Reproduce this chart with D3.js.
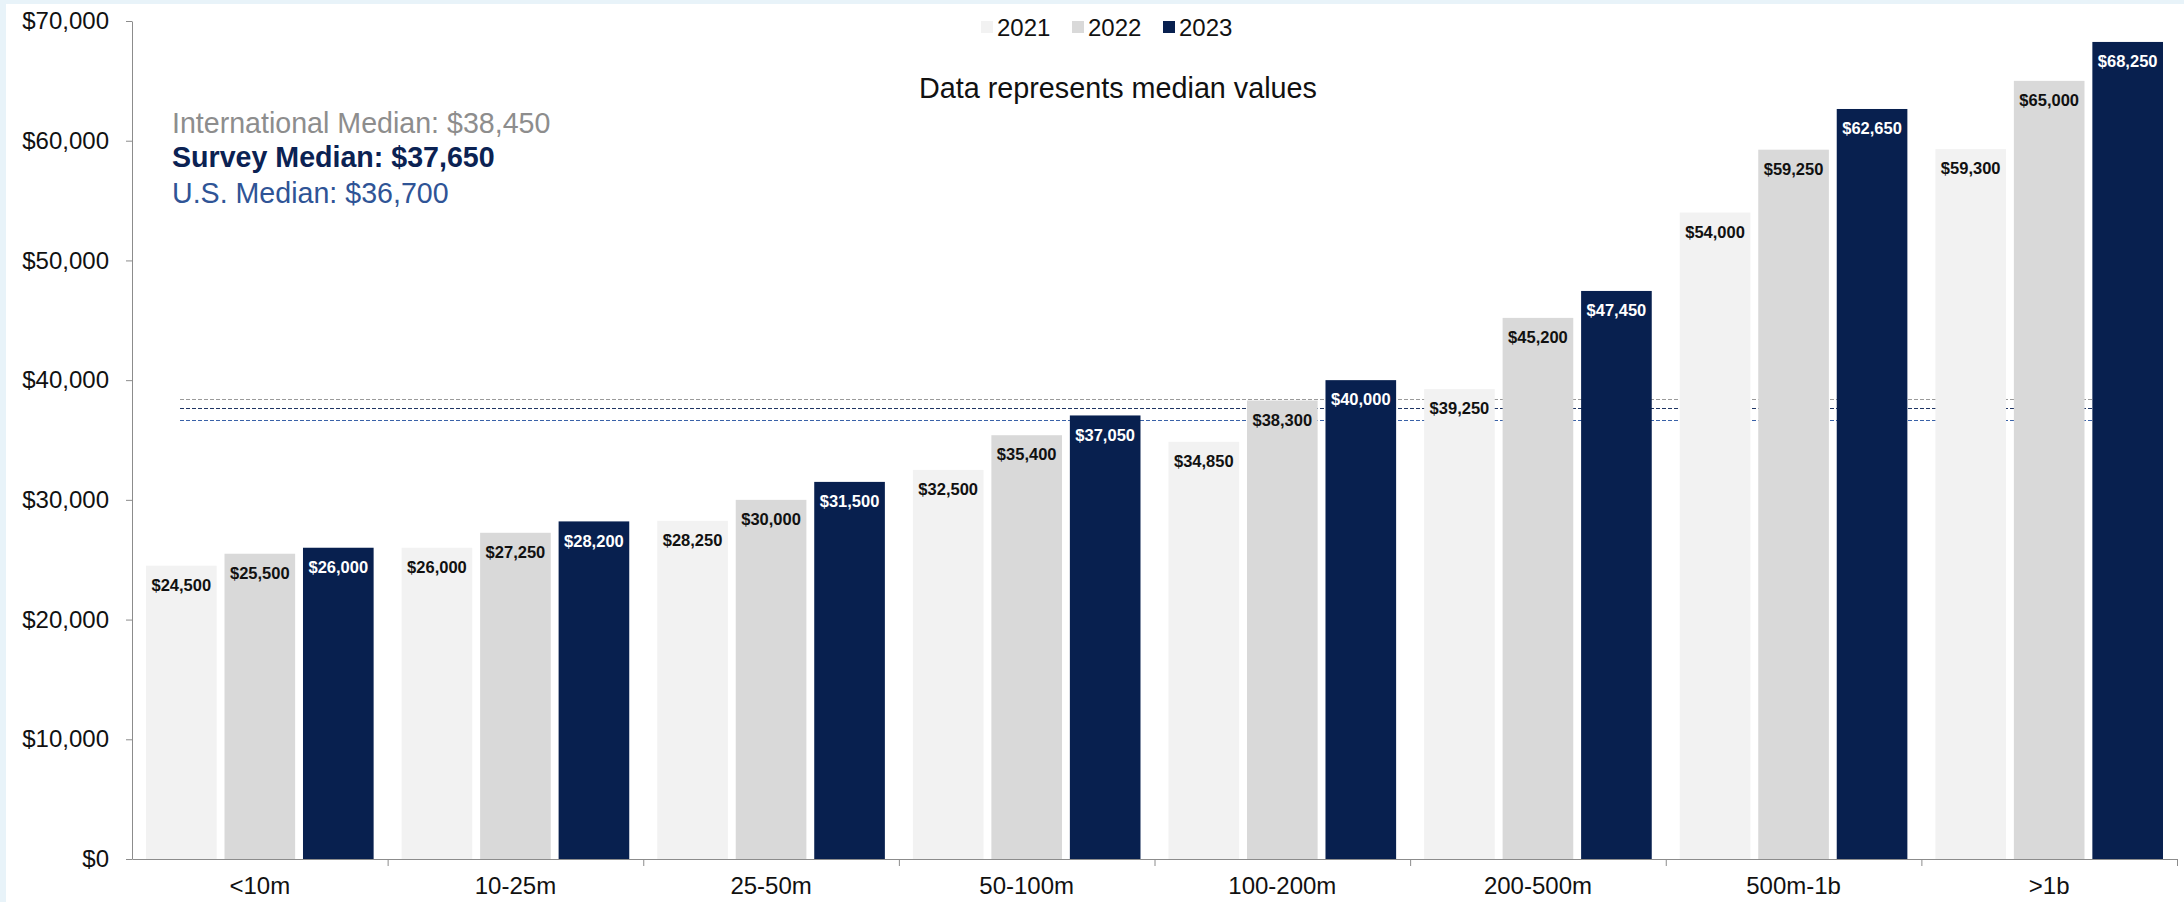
<!DOCTYPE html>
<html>
<head>
<meta charset="utf-8">
<script src="https://cdn.jsdelivr.net/npm/d3@7"></script>
<style>
  html, body { margin: 0; padding: 0; background: #ffffff; }
  svg { display: block; }
  text { font-family: "Liberation Sans", Arial, sans-serif; }
</style>
</head>
<body>
<svg id="chart" width="2184" height="902"></svg>
<script>
// Median salary by organisation size, three survey years
const categories = ["<10m", "10-25m", "25-50m", "50-100m", "100-200m", "200-500m", "500m-1b", ">1b"];
const years = ["2021", "2022", "2023"];
const values2021 = [24500, 26000, 28250, 32500, 34850, 39250, 54000, 59300];
const values2022 = [25500, 27250, 30000, 35400, 38300, 45200, 59250, 65000];
const values2023 = [26000, 28200, 31500, 37050, 40000, 47450, 62650, 68250];
const yTicks = [0, 10000, 20000, 30000, 40000, 50000, 60000, 70000];

// Reference medians shown as dashed lines
const medianLabels = ["International Median", "Survey Median", "U.S. Median"];
const medianValues = [38450, 37650, 36700];

const seriesByYear = [values2021, values2022, values2023];
const fills = ["#f2f2f2", "#d9d9d9", "#08204f"];
const labelFills = ["#111111", "#111111", "#ffffff"];
const medianColors = ["#8d8d8d", "#0b2253", "#2f5496"];
const medianLineColors = ["#9a9a9a", "#1f3564", "#3a62a8"];

const svg = d3.select("#chart");

// thin tinted frame on the left and top edges
svg.append("rect").attr("x", 0).attr("y", 0).attr("width", 2184).attr("height", 4).attr("fill", "#e8f3f9");
svg.append("rect").attr("x", 0).attr("y", 0).attr("width", 6).attr("height", 902).attr("fill", "#e8f3f9");

const plot = { left: 132, right: 2177, top: 21, bottom: 859 };

const x0 = d3.scaleBand().domain(categories).range([plot.left, plot.right]).padding(0);
const x1 = d3.scaleBand().domain(years).range([14, x0.bandwidth() - 14]).paddingInner(0.1);
const y = d3.scaleLinear().domain([0, 70000]).range([plot.bottom, plot.top]);
const money = v => "$" + d3.format(",")(v);

// dashed median lines, drawn first so the bars sit on top of them
svg.append("g").selectAll("line")
  .data(medianValues)
  .join("line")
  .attr("x1", 180)
  .attr("x2", 2150)
  .attr("y1", d => Math.round(y(d)) + 0.5)
  .attr("y2", d => Math.round(y(d)) + 0.5)
  .attr("stroke", (d, i) => medianLineColors[i])
  .attr("stroke-width", 1)
  .attr("stroke-dasharray", "4,2");

// bars
const groups = svg.append("g").selectAll("g")
  .data(categories)
  .join("g")
  .attr("transform", d => `translate(${x0(d)},0)`);

groups.selectAll("rect")
  .data((c, ci) => years.map((yr, yi) => ({ yr, yi, v: seriesByYear[yi][ci] })))
  .join("rect")
  .attr("x", d => x1(d.yr))
  .attr("width", x1.bandwidth())
  .attr("y", d => y(d.v))
  .attr("height", d => y(0) - y(d.v))
  .attr("fill", d => fills[d.yi]);

groups.selectAll("text")
  .data((c, ci) => years.map((yr, yi) => ({ yr, yi, v: seriesByYear[yi][ci] })))
  .join("text")
  .attr("x", d => x1(d.yr) + x1.bandwidth() / 2)
  .attr("y", d => y(d.v) + 19.5)
  .attr("dy", "0.35em")
  .attr("text-anchor", "middle")
  .attr("font-size", 16.5)
  .attr("font-weight", "bold")
  .attr("fill", d => labelFills[d.yi])
  .text(d => money(d.v));

// y axis
const yAxis = svg.append("g")
  .attr("transform", `translate(${plot.left},0)`)
  .call(d3.axisLeft(y).tickValues(yTicks).tickFormat(money).tickSize(6).tickSizeOuter(0).tickPadding(17));
yAxis.select(".domain").attr("stroke", "#8c8c8c");
yAxis.selectAll(".tick line").attr("stroke", "#8c8c8c");
yAxis.selectAll(".tick text")
  .attr("font-size", 24)
  .attr("fill", "#111111")
  .attr("font-family", "'Liberation Sans', Arial, sans-serif");

// x axis: labels centred under each group, ticks on the group boundaries
const xAxis = svg.append("g")
  .attr("transform", `translate(0,${plot.bottom})`)
  .call(d3.axisBottom(x0).tickSize(0).tickSizeOuter(0).tickPadding(18));
xAxis.select(".domain").attr("stroke", "#8c8c8c");
xAxis.selectAll(".tick text")
  .attr("font-size", 24)
  .attr("fill", "#111111")
  .attr("font-family", "'Liberation Sans', Arial, sans-serif");

const boundaries = categories.slice(1).map(c => x0(c)).concat([plot.right]);
svg.append("g").selectAll("line")
  .data(boundaries)
  .join("line")
  .attr("x1", d => d + 0.5)
  .attr("x2", d => d + 0.5)
  .attr("y1", plot.bottom)
  .attr("y2", plot.bottom + 7)
  .attr("stroke", "#8c8c8c");

// legend
const legend = svg.append("g").attr("transform", "translate(981,27)");
const items = legend.selectAll("g")
  .data(years)
  .join("g")
  .attr("transform", (d, i) => `translate(${i * 91},0)`);
items.append("rect")
  .attr("x", 0).attr("y", -6).attr("width", 12).attr("height", 12)
  .attr("fill", (d, i) => fills[i]);
items.append("text")
  .attr("x", 16)
  .attr("dy", "0.36em")
  .attr("font-size", 24)
  .attr("fill", "#111111")
  .text(d => d);

// note under the legend
const note = svg.append("text")
  .attr("x", 1118)
  .attr("y", 98)
  .attr("text-anchor", "middle")
  .attr("font-family", "Carlito, Lato, 'Open Sans', sans-serif")
  .attr("font-size", 27)
  .attr("fill", "#111111")
  .text("Data represents median values");
const noteW = note.node().getComputedTextLength();
note.attr("font-size", 27 * 398 / noteW);

// median annotations
const annot = svg.append("g");
const baselines = [133, 167, 203];
annot.selectAll("text")
  .data(medianValues)
  .join("text")
  .attr("x", 172)
  .attr("y", (d, i) => baselines[i])
  .attr("font-size", 28.6)
  .attr("font-weight", (d, i) => i === 1 ? "bold" : "normal")
  .attr("fill", (d, i) => medianColors[i])
  .text((d, i) => `${medianLabels[i]}: ${money(d)}`);
</script>
</body>
</html>
